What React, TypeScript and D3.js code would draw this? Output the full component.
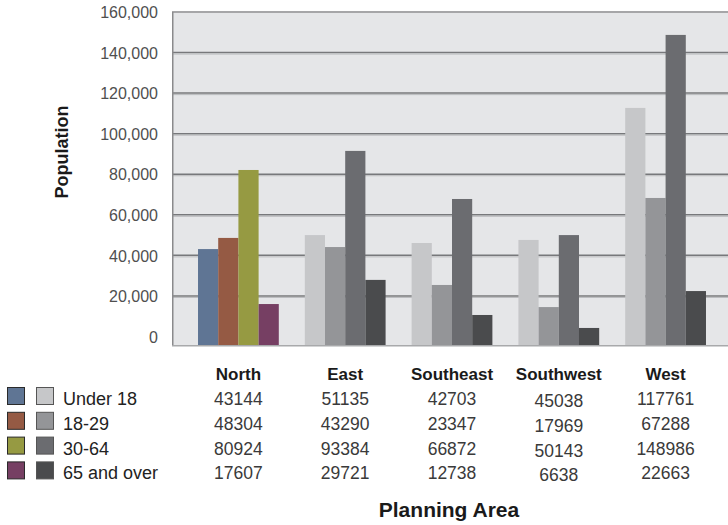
import React from "react";
import * as d3 from "d3";

const areas = ["North", "East", "Southeast", "Southwest", "West"];
const series = ["Under 18", "18-29", "30-64", "65 and over"];

// bar heights as drawn in the chart
const barUnder18 = [43100, 50000, 46100, 47600, 112700];
const bar18to29 = [48600, 44100, 25400, 14500, 68300];
const bar30to64 = [82100, 91500, 67800, 50000, 148700];
const bar65plus = [16000, 27900, 10600, 4200, 22400];

// values printed in the table
const tableUnder18 = ["43144", "51135", "42703", "45038", "117761"];
const table18to29 = ["48304", "43290", "23347", "17969", "67288"];
const table30to64 = ["80924", "93384", "66872", "50143", "148986"];
const table65plus = ["17607", "29721", "12738", "6638", "22663"];

const yTicks = [0, 20000, 40000, 60000, 80000, 100000, 120000, 140000, 160000];

const highlightColors = ["#5f7594", "#955a44", "#969a42", "#763f63"];
const greyColors = ["#c6c7c9", "#949598", "#6b6c70", "#4a4b4d"];

const W = 728;
const H = 525;
const FONT = "'Liberation Sans', Arial, Helvetica, sans-serif";

export default function App() {
  const bars = [barUnder18, bar18to29, bar30to64, bar65plus];
  const table = [tableUnder18, table18to29, table30to64, table65plus];

  const plotLeft = 172;
  const plotTop = 12;
  const plotBottom = 345;

  const x = d3
    .scaleBand<string>()
    .domain(areas)
    .range([plotLeft, 732])
    .paddingInner(0.2436)
    .paddingOuter(0.2436);
  const xs = d3.scaleBand<string>().domain(series).range([0, x.bandwidth()]);
  const y = d3.scaleLinear().domain([-4200, 160000]).range([plotBottom, plotTop]);

  const rowBase = (i: number) => 405 + 24.8 * i;

  return (
    <svg
      width={W}
      height={H}
      style={{ position: "absolute", left: 0, top: 0, background: "#fff" }}
      fontFamily={FONT}
    >
      <rect x={plotLeft} y={plotTop} width={W - plotLeft} height={plotBottom - plotTop} fill="#e5e6e8" />
      <line x1={plotLeft} x2={W} y1={plotTop} y2={plotTop} stroke="#a6a6a8" strokeWidth={2} />
      {yTicks
        .filter((t) => t > 0 && t < 160000)
        .map((t) => (
          <g key={t}>
            <line x1={plotLeft} x2={W} y1={y(t)} y2={y(t)} stroke="#77787b" strokeWidth={1.5} />
            <line x1={plotLeft} x2={W} y1={y(t) + 1.5} y2={y(t) + 1.5} stroke="#b9babc" strokeWidth={1} />
          </g>
        ))}
      {yTicks.map((t) => (
        <text
          key={"l" + t}
          x={158}
          y={y(t) + 2}
          textAnchor="end"
          dominantBaseline="middle"
          fontSize={16}
          fill="#4f4f4f"
        >
          {d3.format(",")(t)}
        </text>
      ))}
      {areas.map((a, ai) =>
        series.map((s, si) => (
          <rect
            key={a + s}
            x={(x(a) as number) + (xs(s) as number)}
            y={y(bars[si][ai])}
            width={xs.bandwidth()}
            height={plotBottom - y(bars[si][ai])}
            fill={ai === 0 ? highlightColors[si] : greyColors[si]}
          />
        ))
      )}
      <line x1={plotLeft + 0.75} x2={plotLeft + 0.75} y1={plotTop} y2={plotBottom + 1} stroke="#8a8a8c" strokeWidth={1.5} />
      <line x1={plotLeft} x2={W} y1={plotBottom + 0.75} y2={plotBottom + 0.75} stroke="#a8a9ab" strokeWidth={1.5} />

      <text
        transform={`translate(68,152) rotate(-90)`}
        textAnchor="middle"
        fontSize={18}
        fontWeight="bold"
        fill="#1a1a1a"
      >
        Population
      </text>

      {areas.map((a) => {
        const cx = (x(a) as number) + x.bandwidth() / 2;
        return (
          <g key={"t" + a}>
            <text x={cx} y={380} textAnchor="middle" fontSize={17} fontWeight="bold" fill="#1a1a1a">
              {a}
            </text>
          </g>
        );
      })}
      {series.map((s, si) => (
        <g key={"row" + s}>
          <rect x={7.5} y={rowBase(si) - 17.5} width={17} height={17} fill={highlightColors[si]} stroke="#2a2a2a" strokeWidth={1} />
          <rect x={36.5} y={rowBase(si) - 17.5} width={17} height={17} fill={greyColors[si]} stroke="#555" strokeWidth={1} />
          <text x={63} y={rowBase(si)} fontSize={18} fill="#222">
            {s}
          </text>
          {areas.map((a, ai) => (
            <text
              key={a}
              x={(x(a) as number) + x.bandwidth() / 2}
              y={rowBase(si) + (a === "Southwest" ? 2 : 0)}
              textAnchor="middle"
              fontSize={17.5}
              fill="#3a3a3a"
            >
              {table[si][ai]}
            </text>
          ))}
        </g>
      ))}
      <text x={449} y={517} textAnchor="middle" fontSize={21} fontWeight="bold" fill="#1a1a1a">
        Planning Area
      </text>
    </svg>
  );
}
